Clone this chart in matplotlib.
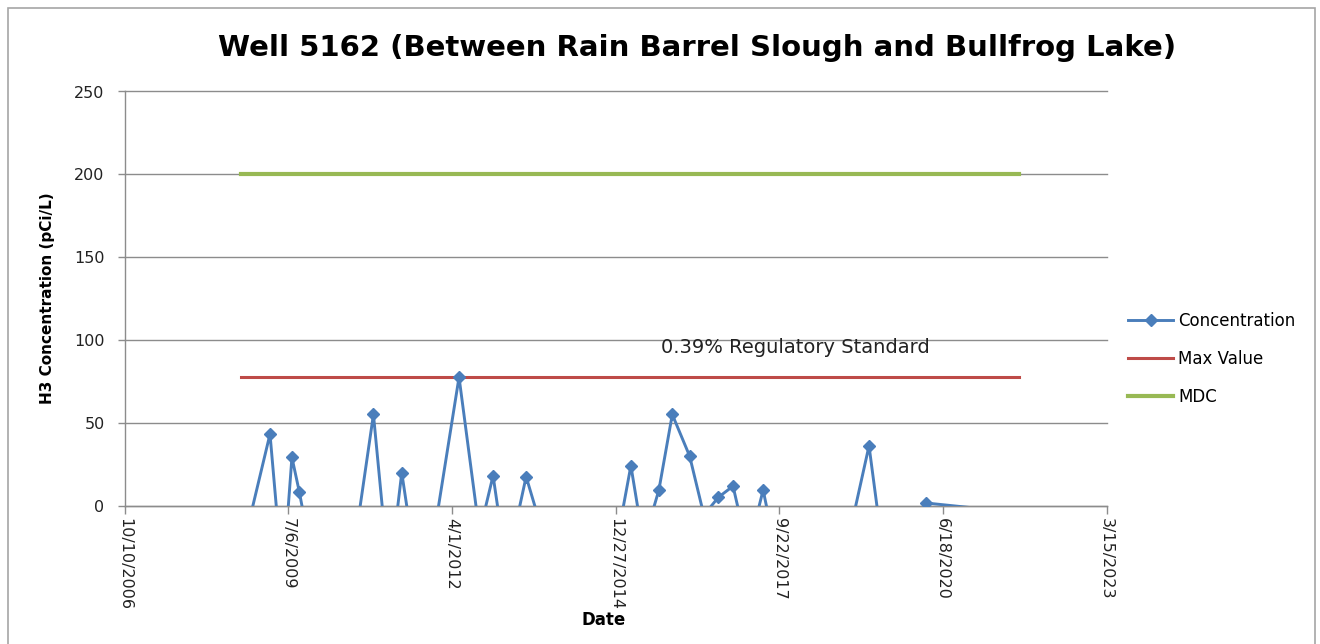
import matplotlib
matplotlib.use('Agg')
import matplotlib.pyplot as plt
from matplotlib.patches import Rectangle
import pandas as pd

# Sample dates and H3 results (negative results fall below the axis and get clipped)
sample_dates = ['2008-09-18', '2009-03-17', '2009-06-03', '2009-07-29', '2009-09-12',
                '2010-04-18', '2010-12-09', '2011-03-15', '2011-05-31', '2011-10-03',
                '2012-05-15', '2012-09-17', '2012-12-09', '2013-03-01', '2013-06-29',
                '2014-07-21', '2015-03-31', '2015-06-16', '2015-09-18', '2015-12-09',
                '2016-03-24', '2016-06-19', '2016-09-15', '2016-12-14', '2017-03-15',
                '2017-06-16', '2018-03-28', '2019-03-25', '2019-09-16', '2020-03-09',
                '2021-09-28']
concentration = [-31, 43.4, -45, 29.3, 8.6,
                 -105, 55.2, -44, 20.1, -62,
                 77.7, -16, 18.3, -37, 17.7,
                 -111, 24.3, -22, 9.6, 55.2,
                 30.1, -5.5, 5.2, 12.0, -27,
                 9.6, -125, 36.3, -95, 1.8,
                 -4]
max_value = 77.7
mdc_value = 200

tick_dates = ['2006-10-10', '2009-07-06', '2012-04-01', '2014-12-27',
              '2017-09-22', '2020-06-18', '2023-03-15']
tick_labels = ['10/10/2006', '7/6/2009', '4/1/2012', '12/27/2014',
               '9/22/2017', '6/18/2020', '3/15/2023']
y_ticks = [0, 50, 100, 150, 200, 250]

dates = pd.to_datetime(sample_dates)
ticks = pd.to_datetime(tick_dates)

fig = plt.figure(figsize=(13.2, 6.44), dpi=100)
ax = fig.add_axes([124.5 / 1320, 1 - 506 / 644, (1106.5 - 124.5) / 1320, (506 - 91.5) / 644])

# chart area border
fig.patches.append(Rectangle((8 / 1320, -0.05), (1315 - 8) / 1320, 1.05 - 8 / 644,
                             transform=fig.transFigure, fill=False, edgecolor='#A6A6A6', lw=1.2))

grid_col = '#8C8C8C'
ax.plot(dates, concentration, color='#4A7EBB', lw=2.1, marker='D', markersize=6.3,
        label='Concentration', zorder=4)
ax.plot([dates[0], dates[-1]], [max_value, max_value], color='#BE4B48', lw=2.2,
        label='Max Value', zorder=3)
ax.plot([dates[0], dates[-1]], [mdc_value, mdc_value], color='#98B954', lw=3,
        label='MDC', zorder=3)

ax.set_xlim(ticks[0], ticks[-1])
ax.set_ylim(0, 250)
ax.set_xticks(ticks)
ax.set_xticklabels(tick_labels, rotation=-90, fontsize=11.5, color='#222222')
ax.set_yticks(y_ticks)
ax.set_yticklabels([str(v) for v in y_ticks], fontsize=11.5, color='#222222')
ax.tick_params(axis='both', direction='out', length=5.4, width=1, color=grid_col)
ax.tick_params(axis='y', pad=9)
ax.tick_params(axis='x', pad=3)
ax.grid(axis='y', color=grid_col, lw=1)
for gl in ax.get_ygridlines():
    gl.set_clip_on(False)
ax.set_axisbelow(True)
for s in ['top', 'right']:
    ax.spines[s].set_visible(False)
for s in ['left', 'bottom']:
    ax.spines[s].set_color(grid_col)
    ax.spines[s].set_linewidth(1)

ax.text(pd.Timestamp('2018-01-02'), 95.8, '0.39% Regulatory Standard',
        ha='center', va='center', fontsize=14, color='#222222')

fig.text(697 / 1320, 1 - 48 / 644, 'Well 5162 (Between Rain Barrel Slough and Bullfrog Lake)',
         ha='center', va='center', fontsize=21, fontweight='bold')
fig.text(604 / 1320, 1 - 620 / 644, 'Date', ha='center', va='center',
         fontsize=12, fontweight='bold')
fig.text(48 / 1320, 1 - 298 / 644, 'H3 Concentration (pCi/L)', ha='center', va='center',
         rotation=90, fontsize=11, fontweight='bold')

fig.legend(loc='center left', bbox_to_anchor=(1128 / 1320, 1 - 359 / 644), frameon=False,
           fontsize=12, handlelength=2.7, handletextpad=0.3, labelspacing=1.2,
           borderpad=0, borderaxespad=0, numpoints=1)

fig.savefig('out.png', dpi=100)
